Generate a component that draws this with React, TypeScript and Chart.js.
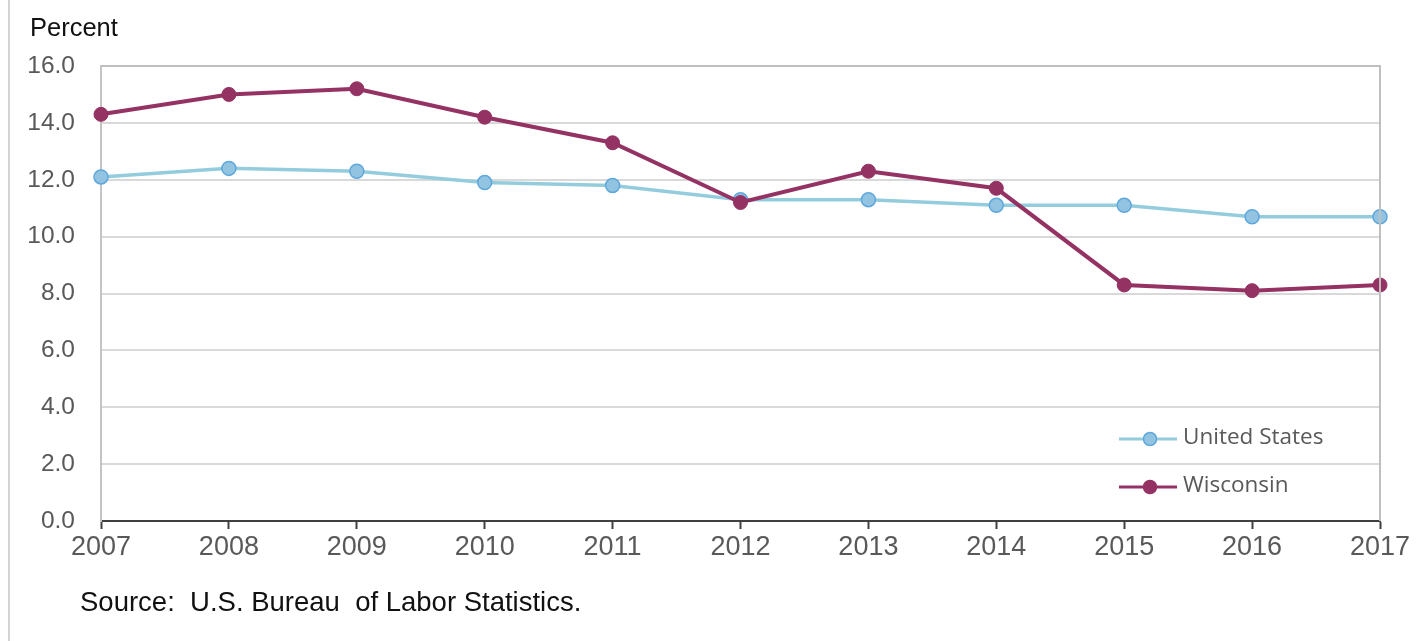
import React, { useEffect, useRef } from "react";
import { Chart, registerables } from "chart.js";

Chart.register(...registerables);

const years = ["2007", "2008", "2009", "2010", "2011", "2012", "2013", "2014", "2015", "2016", "2017"];
const unitedStates = [12.1, 12.4, 12.3, 11.9, 11.8, 11.3, 11.3, 11.1, 11.1, 10.7, 10.7];
const wisconsin = [14.3, 15.0, 15.2, 14.2, 13.3, 11.2, 12.3, 11.7, 8.3, 8.1, 8.3];
const yTicks = [0, 2, 4, 6, 8, 10, 12, 14, 16];
const seriesNames = ["United States", "Wisconsin"];
const yTitle = "Percent";
const sourceText = "Source:  U.S. Bureau  of Labor Statistics.";

const US_LINE = "#93cddd";
const US_FILL = "#92c4e2";
const US_BORDER = "#5ea7dc";
const WI_COLOR = "#953264";

const decorPlugin = {
  id: "decor",
  beforeDraw(chart: any) {
    const ctx = chart.ctx;
    ctx.save();
    ctx.fillStyle = "#ffffff";
    ctx.fillRect(0, 0, chart.width, chart.height);
    ctx.strokeStyle = "#d4d4d4";
    ctx.lineWidth = 2;
    ctx.beginPath();
    ctx.moveTo(9, 0);
    ctx.lineTo(9, chart.height);
    ctx.stroke();
    ctx.restore();
  },
  afterDraw(chart: any) {
    const ctx = chart.ctx;
    const a = chart.chartArea;
    ctx.save();
    ctx.strokeStyle = "#bfbfbf";
    ctx.lineWidth = 2;
    ctx.beginPath();
    ctx.moveTo(a.left, a.top);
    ctx.lineTo(a.right, a.top);
    ctx.lineTo(a.right, a.bottom);
    ctx.stroke();

    ctx.fillStyle = "#111111";
    ctx.font = "25.5px 'Liberation Sans', Arial, sans-serif";
    ctx.textAlign = "left";
    ctx.textBaseline = "alphabetic";
    ctx.fillText(yTitle, 30, 36);

    ctx.font = "27.5px 'Liberation Sans', Arial, sans-serif";
    ctx.fillText(sourceText, 80, 611);

    const items = [
      { name: seriesNames[0], line: US_LINE, fill: US_FILL, border: US_BORDER, y: 439 },
      { name: seriesNames[1], line: WI_COLOR, fill: WI_COLOR, border: WI_COLOR, y: 487 },
    ];
    items.forEach((it) => {
      ctx.strokeStyle = it.line;
      ctx.lineWidth = 3;
      ctx.beginPath();
      ctx.moveTo(1119, it.y);
      ctx.lineTo(1177, it.y);
      ctx.stroke();
      ctx.beginPath();
      ctx.arc(1150, it.y, 6.5, 0, Math.PI * 2);
      ctx.fillStyle = it.fill;
      ctx.fill();
      ctx.lineWidth = 1.5;
      ctx.strokeStyle = it.border;
      ctx.stroke();
      ctx.fillStyle = "#595959";
      ctx.font = "22.5px 'Open Sans', sans-serif";
      ctx.textBaseline = "middle";
      ctx.fillText(it.name, 1183, it.y - 1);
    });
    ctx.restore();
  },
};

export default function App() {
  const ref = useRef<HTMLCanvasElement | null>(null);

  useEffect(() => {
    if (!ref.current) return;
    const chart = new Chart(ref.current, {
      type: "line",
      data: {
        labels: years,
        datasets: [
          {
            label: seriesNames[0],
            data: unitedStates,
            order: 2,
            borderColor: US_LINE,
            backgroundColor: US_FILL,
            pointBackgroundColor: US_FILL,
            pointBorderColor: US_BORDER,
            pointBorderWidth: 1.5,
            pointRadius: 7,
            borderWidth: 3.5,
            tension: 0,
            clip: false as any,
          },
          {
            label: seriesNames[1],
            data: wisconsin,
            order: 1,
            borderColor: WI_COLOR,
            backgroundColor: WI_COLOR,
            pointBackgroundColor: WI_COLOR,
            pointBorderColor: WI_COLOR,
            pointBorderWidth: 1,
            pointRadius: 7,
            borderWidth: 4,
            tension: 0,
            clip: false as any,
          },
        ],
      },
      options: {
        animation: false,
        responsive: false,
        devicePixelRatio: 1,
        events: [],
        layout: { padding: { left: 0, top: 66, right: 39, bottom: 0 } },
        plugins: {
          legend: { display: false },
          tooltip: { enabled: false },
          title: { display: false },
        },
        scales: {
          x: {
            type: "category",
            offset: false,
            grid: {
              drawOnChartArea: false,
              drawTicks: true,
              tickLength: 8,
              tickColor: "#404040",
              tickWidth: 2,
            },
            border: { color: "#404040", width: 2 },
            ticks: {
              color: "#595959",
              font: { family: "'Liberation Sans', Arial, sans-serif", size: 27 },
              padding: 2,
              maxRotation: 0,
              autoSkip: false,
            },
            afterFit(scale: any) {
              scale.height = 120;
            },
          },
          y: {
            min: 0,
            max: 16,
            afterBuildTicks(scale: any) {
              scale.ticks = yTicks.map((v) => ({ value: v }));
            },
            grid: {
              color: "#d9d9d9",
              lineWidth: 2,
              drawTicks: false,
            },
            border: { color: "#c4c4c4", width: 2 },
            ticks: {
              color: "#595959",
              font: { family: "'Liberation Sans', Arial, sans-serif", size: 24.5 },
              padding: 26,
              callback: (v: any) => Number(v).toFixed(1),
            },
            afterFit(scale: any) {
              scale.width = 101;
            },
          },
        },
      },
      plugins: [decorPlugin],
    });
    return () => chart.destroy();
  }, []);

  return (
    <div style={{ position: "fixed", left: 0, top: 0, width: 1419, height: 641, background: "#fff" }}>
      <canvas ref={ref} width={1419} height={641} style={{ display: "block" }} />
    </div>
  );
}
